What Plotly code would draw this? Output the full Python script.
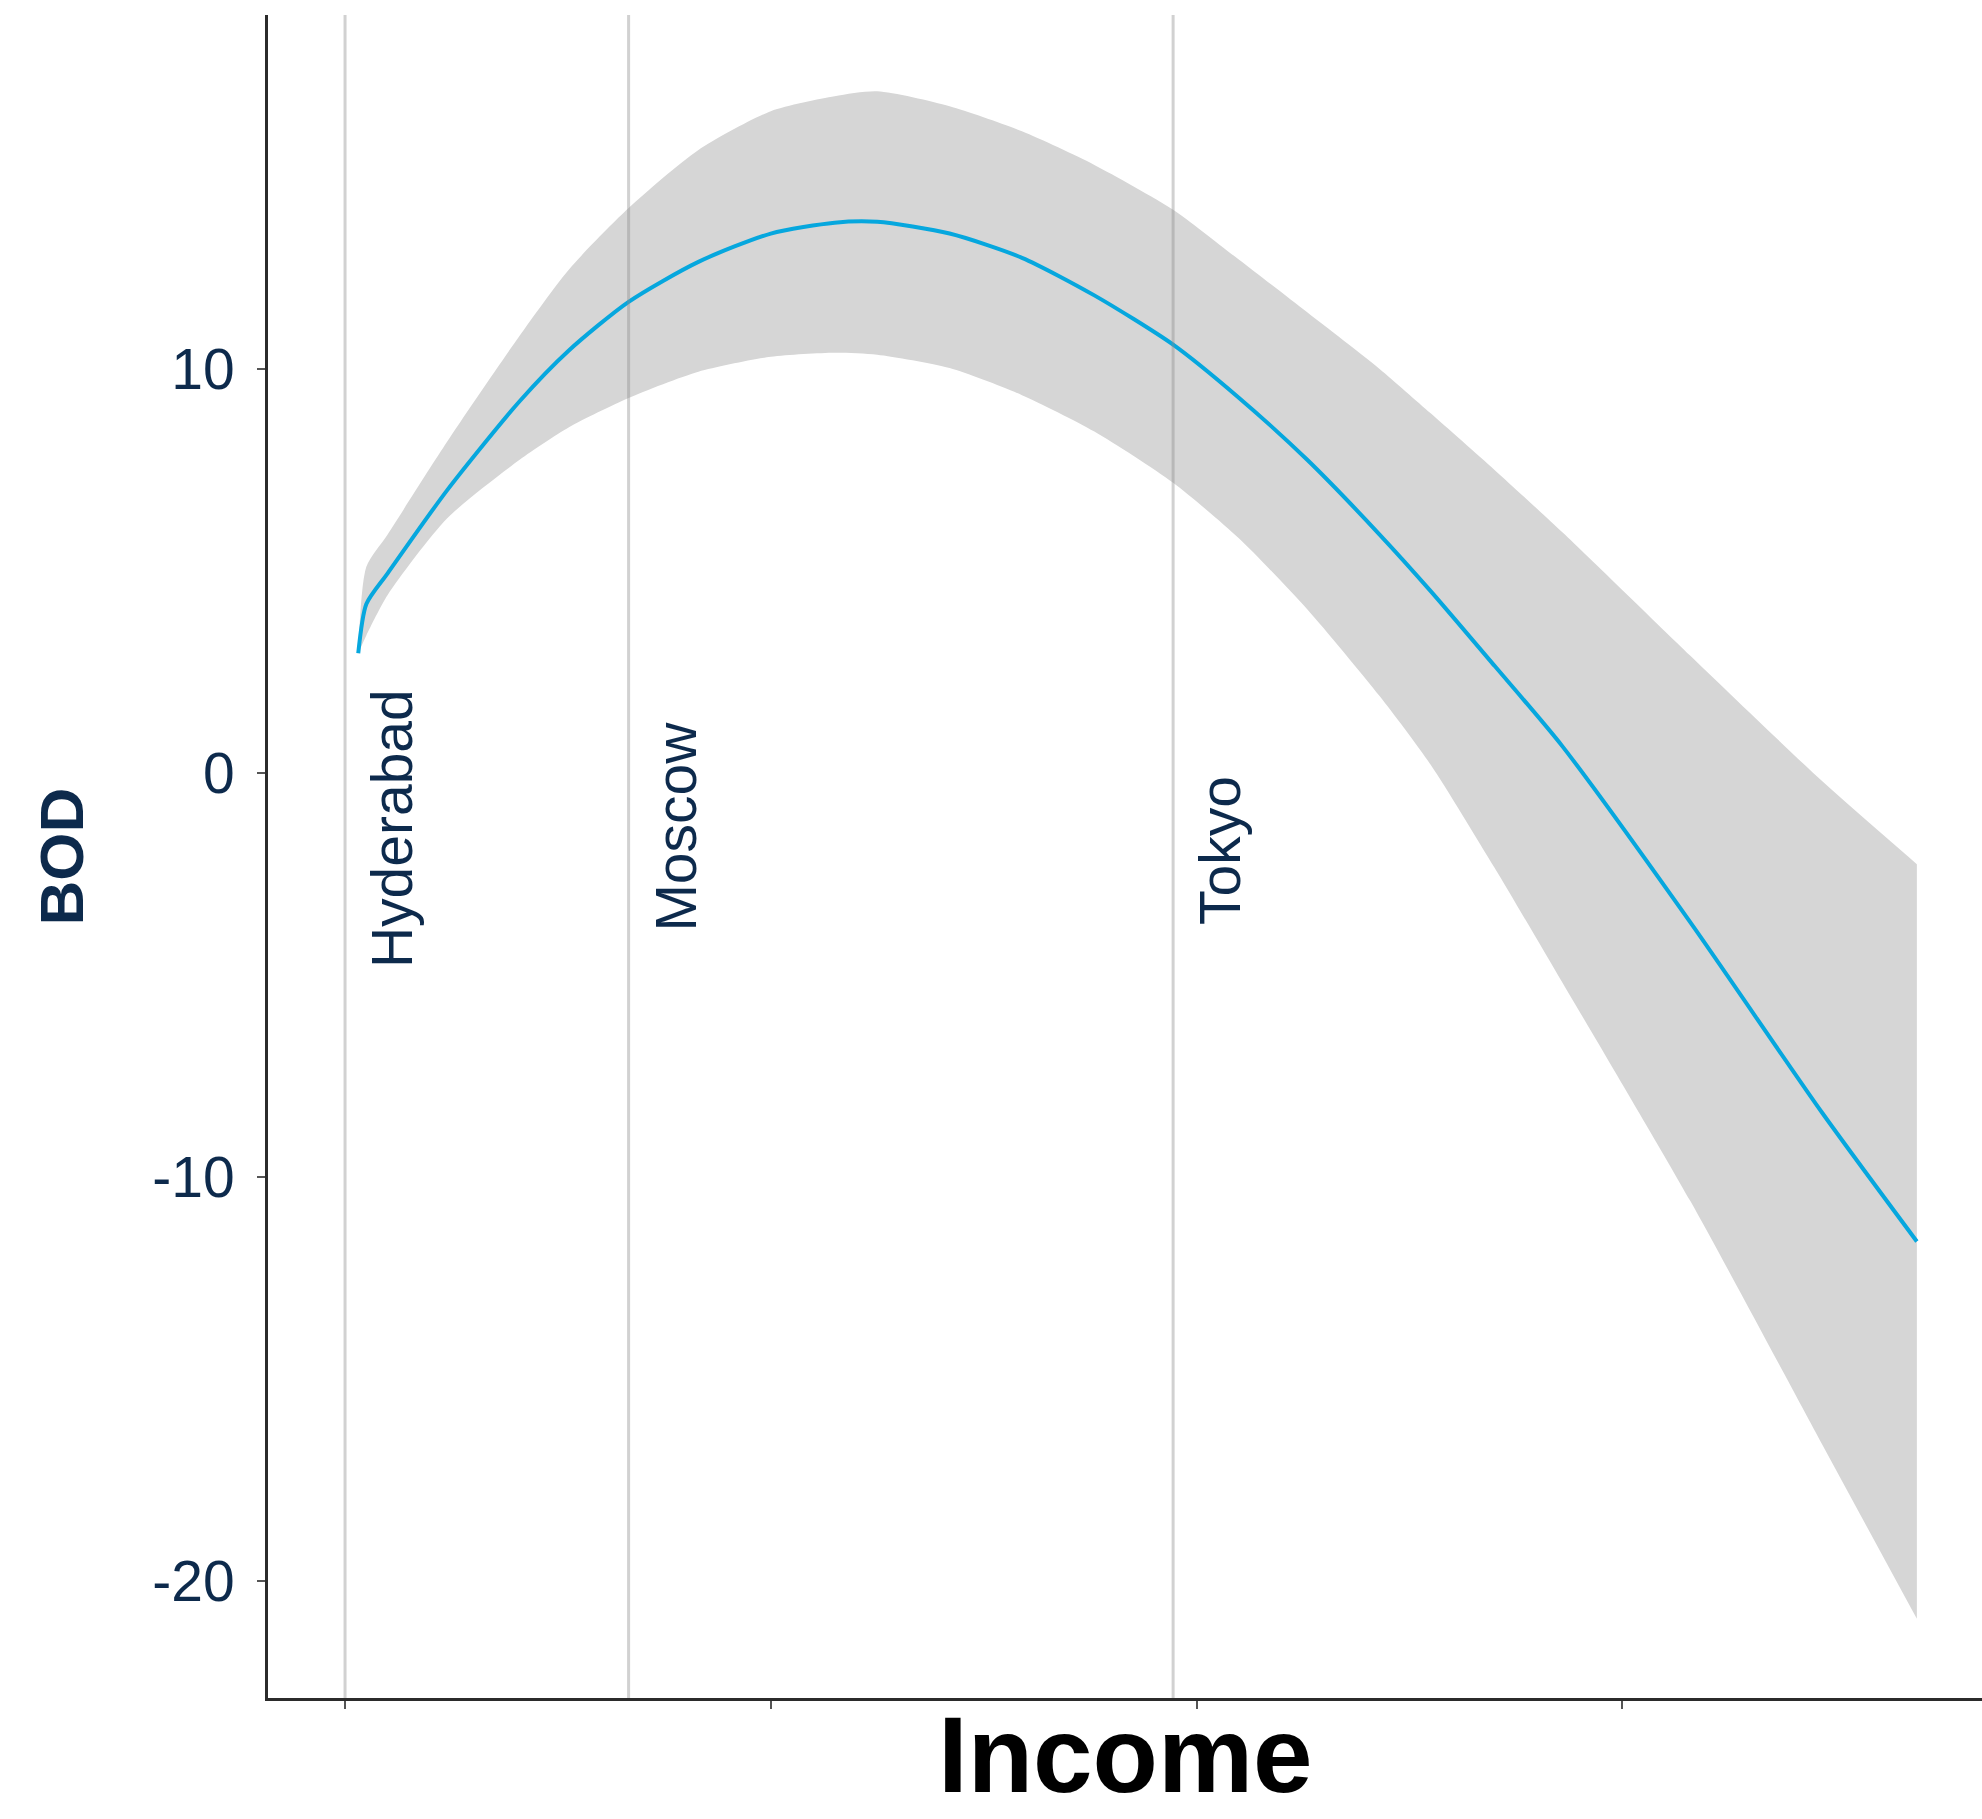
import plotly.graph_objects as go

# Fitted BOD curve against income (income on an arbitrary index scale)
income = [0.031, 0.05, 0.10, 0.24, 0.41, 0.525, 0.666, 0.83, 1.0, 1.15, 1.25, 1.42,
          1.59, 1.76, 1.945, 2.1, 2.26, 2.43, 2.55, 2.7, 2.86, 3.16, 3.47, 3.692]
bod_fit = [2.96, 4.18, 4.94, 7.0, 9.2, 10.45, 11.66, 12.65, 13.35, 13.62, 13.64, 13.35,
           12.75, 11.82, 10.6, 9.28, 7.75, 5.9, 4.5, 2.65, 0.65, -3.7, -8.42, -11.6]
bod_upper = [2.96, 5.1, 5.9, 8.2, 10.82, 12.45, 13.98, 15.42, 16.38, 16.75, 16.87, 16.5,
             15.88, 15.05, 13.94, 12.7, 11.4, 10.0, 8.9, 7.5, 5.95, 2.9, -0.21, -2.26]
bod_lower = [2.96, 3.4, 4.4, 6.3, 7.75, 8.55, 9.28, 9.93, 10.3, 10.4, 10.35, 10.02,
             9.35, 8.45, 7.18, 5.8, 4.05, 1.9, 0.2, -2.35, -5.2, -10.6, -16.63, -20.94]

# Reference cities marked along the income axis
cities = ["Hyderabad", "Moscow", "Tokyo"]
city_income = [0.0, 0.666, 1.945]
city_label_y = [-1.39, -1.34, -1.93]

y_ticks = [-20, -10, 0, 10]
x_ticks = [0, 1, 2, 3]

NAVY = "#0d2a4c"
FONT = "Liberation Sans, Arial, sans-serif"

fig = go.Figure()

# Confidence band: lower edge, then upper edge filled down to it
fig.add_trace(go.Scatter(
    x=income, y=bod_lower, mode="lines",
    line=dict(width=0, color="rgba(0,0,0,0)", shape="spline", smoothing=0.7),
    hoverinfo="skip", showlegend=False,
))
fig.add_trace(go.Scatter(
    x=income, y=bod_upper, mode="lines",
    fill="tonexty", fillcolor="#d6d6d6",
    line=dict(width=0, color="rgba(0,0,0,0)", shape="spline", smoothing=0.7),
    hoverinfo="skip", showlegend=False,
))

# Fitted line
fig.add_trace(go.Scatter(
    x=income, y=bod_fit, mode="lines",
    line=dict(color="#06a7de", width=4, shape="spline", smoothing=0.7),
    showlegend=False,
))

# City marker lines and labels
for name, xv, ly in zip(cities, city_income, city_label_y):
    fig.add_shape(
        type="line", xref="x", yref="paper",
        x0=xv, x1=xv, y0=0, y1=1,
        line=dict(color="rgba(140,140,140,0.4)", width=3),
        layer="above",
    )
    fig.add_annotation(
        x=xv, y=ly, xref="x", yref="y",
        text=name, textangle=-90, showarrow=False,
        xshift=47,
        font=dict(family=FONT, size=57, color=NAVY),
    )

# Axis titles
fig.add_annotation(
    x=-0.142, y=0.5, xref="paper", yref="paper",
    text="<b>BOD</b>", textangle=-90, showarrow=False,
    font=dict(family=FONT, size=62, color=NAVY),
)
fig.add_annotation(
    x=0.5, y=-0.071, xref="paper", yref="paper",
    text="<b>Income</b>", showarrow=False,
    font=dict(family=FONT, size=107, color="#000000"),
)

fig.update_layout(
    width=1982, height=1819,
    margin=dict(l=268, r=0, t=15, b=121),
    plot_bgcolor="white", paper_bgcolor="white",
    showlegend=False,
)
fig.update_xaxes(
    range=[-0.181, 3.845],
    showgrid=False, zeroline=False,
    showline=True, linecolor="#2b2b2b", linewidth=3,
    tickvals=x_ticks, showticklabels=False,
    ticks="outside", ticklen=8, tickwidth=1.5, tickcolor="#555555",
)
fig.update_yaxes(
    range=[-22.9, 18.76],
    showgrid=False, zeroline=False,
    showline=True, linecolor="#2b2b2b", linewidth=3,
    tickvals=y_ticks, ticktext=[str(v) for v in y_ticks],
    ticks="outside", ticklen=8, tickwidth=1.5, tickcolor="#555555",
    ticklabelstandoff=11,
    tickfont=dict(family=FONT, size=57, color=NAVY),
)

fig.write_html("out.html")
